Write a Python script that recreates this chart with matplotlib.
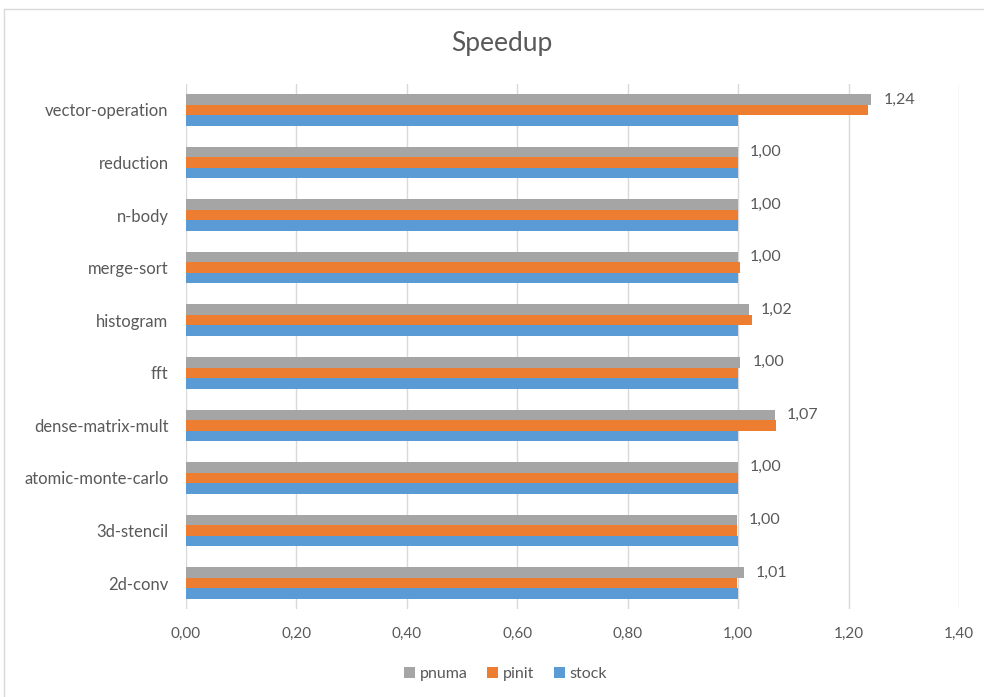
import matplotlib.pyplot as plt
import numpy as np
from matplotlib.patches import Rectangle

benchmarks = ["2d-conv", "3d-stencil", "atomic-monte-carlo", "dense-matrix-mult",
              "fft", "histogram", "merge-sort", "n-body", "reduction", "vector-operation"]
pnuma = [1.01, 0.998, 1.00, 1.067, 1.004, 1.02, 1.00, 1.00, 1.00, 1.241]
pinit = [0.998, 0.998, 1.00, 1.069, 1.00, 1.025, 1.003, 1.00, 1.00, 1.235]
stock = [1.00, 1.00, 1.00, 1.00, 1.00, 1.00, 1.00, 1.00, 1.00, 1.00]
xticks = [0.0, 0.2, 0.4, 0.6, 0.8, 1.0, 1.2, 1.4]

text_color = "#595959"
plt.rcParams["font.family"] = ["Lato", "DejaVu Sans"]

fig = plt.figure(figsize=(9.84, 6.97), dpi=100)
ax = fig.add_axes([0.189, 0.1258, 0.7856, 0.7542])

# light frame around the whole chart
fig.patches.append(Rectangle((4 / 984, -0.01), 1.0, 1 - 9 / 697 + 0.01,
                             transform=fig.transFigure, fill=False,
                             edgecolor="#d9d9d9", linewidth=1.0))

y = np.arange(len(benchmarks))
h = 0.2
ax.barh(y + h, pnuma, height=h, color="#A5A5A5", label="pnuma", zorder=3)
ax.barh(y, pinit, height=h, color="#ED7D31", label="pinit", zorder=3)
ax.barh(y - h, stock, height=h, color="#5B9BD5", label="stock", zorder=3)

for yi, v in zip(y, pnuma):
    ax.annotate(f"{v:.2f}".replace(".", ","), xy=(v, yi + h), xytext=(12, 0),
                textcoords="offset pixels", va="center", ha="left",
                fontsize=11.5, color=text_color)

ax.set_xlim(0, 1.4)
ax.set_ylim(-0.5, len(benchmarks) - 0.5)
ax.set_xticks(xticks)
ax.set_xticklabels([f"{t:.2f}".replace(".", ",") for t in xticks])
ax.set_yticks(y)
ax.set_yticklabels(benchmarks)
ax.tick_params(axis="x", length=0, pad=13, labelsize=11, labelcolor=text_color)
ax.tick_params(axis="y", length=0, pad=12.5, labelsize=12, labelcolor=text_color)
ax.grid(axis="x", color="#d9d9d9", linewidth=1.0, zorder=0)
for s in ax.spines.values():
    s.set_visible(False)

fig.text(0.51, 1 - 43 / 697, "Speedup", fontsize=19, color=text_color,
         ha="center", va="center")

handles, labels = ax.get_legend_handles_labels()
fig.legend(handles, labels, loc="center", bbox_to_anchor=(0.514, 1 - 674 / 697),
           ncol=3, frameon=False, fontsize=11.5, labelcolor=text_color,
           handlelength=0.7, handleheight=0.7, handletextpad=0.3, columnspacing=1.2)

fig.savefig("out.png", dpi=100)
